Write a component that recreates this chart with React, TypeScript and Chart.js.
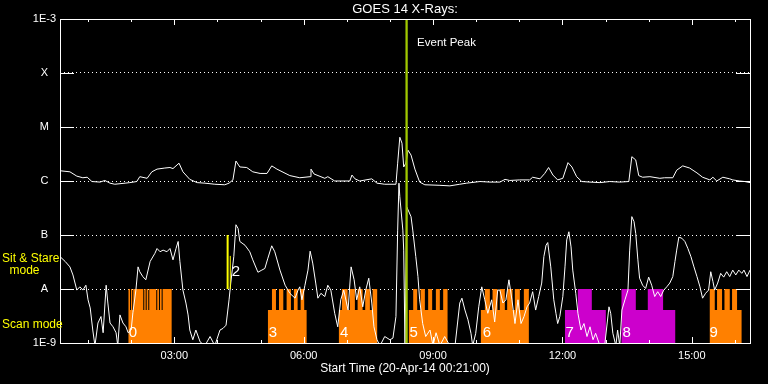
import React, { useEffect, useRef } from 'react';
import { Chart, registerables } from 'chart.js';

Chart.register(...registerables);

const FONT = "'Liberation Sans', Arial, sans-serif";

// ---------- text ----------
const chartTitle = 'GOES 14 X-Rays:';
const xAxisTitle = 'Start Time (20-Apr-14 00:21:00)';

// ---------- axes (hours of 20-Apr-14, log10 flux W/m^2) ----------
const xMinHour = 0.35; // 00:21
const xMaxHour = 16.35;
const hourTicks = [1, 2, 3, 4, 5, 6, 7, 8, 9, 10, 11, 12, 13, 14, 15, 16];
const labeledHours = [3, 6, 9, 12, 15];
const yTickValues = [1e-9, 1e-8, 1e-7, 1e-6, 1e-5, 1e-4, 1e-3];
const yTickLabels = ['1E-9', 'A', 'B', 'C', 'M', 'X', '1E-3'];

// ---------- GOES long channel (1-8 A): [hour, log10 flux] ----------
const longChannel: [number, number][] = [
  [0.35, -5.81], [0.58, -5.83], [0.74, -5.91], [0.88, -5.94], [0.98, -5.93], [1.09, -6.01],
  [1.28, -6.02], [1.39, -5.99], [1.51, -6.04], [1.62, -6.06], [1.86, -6.04], [1.97, -6.03],
  [2.13, -6.01], [2.20, -5.92], [2.37, -5.95], [2.48, -5.83], [2.60, -5.78], [2.78, -5.76],
  [2.90, -5.75], [2.97, -5.77], [3.11, -5.67], [3.20, -5.83], [3.36, -5.97], [3.53, -6.03],
  [3.71, -6.04], [3.94, -6.06], [4.17, -6.07], [4.27, -6.04], [4.36, -5.98], [4.43, -5.63],
  [4.52, -5.74], [4.68, -5.75], [4.82, -5.83], [4.99, -5.86], [5.15, -5.86], [5.26, -5.72],
  [5.38, -5.78], [5.68, -5.90], [5.91, -5.94], [6.15, -5.92], [6.17, -5.78], [6.24, -5.87],
  [6.49, -5.95], [6.56, -5.92], [6.72, -6.00], [7.07, -6.00], [7.12, -5.89], [7.19, -5.96],
  [7.30, -6.00], [7.58, -5.96], [7.70, -6.04], [7.88, -6.06], [8.14, -6.06], [8.18, -5.67],
  [8.23, -5.19], [8.28, -5.30], [8.32, -5.74], [8.37, -5.67], [8.42, -5.43], [8.49, -5.52],
  [8.58, -5.78], [8.69, -6.02], [8.81, -6.07], [9.16, -6.08], [9.39, -6.09], [9.62, -6.06],
  [9.78, -6.04], [10.09, -6.01], [10.32, -6.02], [10.55, -6.02], [10.67, -5.97], [10.78, -5.99],
  [11.01, -5.98], [11.24, -5.98], [11.31, -5.93], [11.48, -5.96], [11.59, -5.86], [11.68, -5.75],
  [11.78, -5.89], [11.89, -5.98], [12.01, -5.95], [12.13, -5.66], [12.22, -5.74], [12.33, -5.92],
  [12.45, -6.01], [12.64, -6.02], [12.87, -6.03], [13.10, -6.01], [13.33, -6.02], [13.54, -6.01],
  [13.61, -5.55], [13.70, -5.61], [13.77, -5.90], [13.86, -5.93], [14.03, -5.92], [14.26, -5.95],
  [14.37, -5.94], [14.56, -5.94], [14.65, -5.80], [14.79, -5.72], [14.95, -5.76], [15.12, -5.85],
  [15.25, -5.93], [15.42, -5.98], [15.49, -5.93], [15.58, -6.00], [15.72, -5.93], [15.88, -5.96],
  [15.95, -5.98], [16.11, -6.00], [16.23, -6.01], [16.35, -6.03],
];

// ---------- GOES short channel (0.5-4 A): [hour, log10 flux] ----------
const shortChannel: [number, number][] = [
  [0.35, -7.40], [0.47, -7.49], [0.58, -7.59], [0.65, -7.74], [0.74, -8.02], [0.81, -7.96],
  [0.88, -8.02], [0.95, -7.93], [1.00, -8.20], [1.05, -8.35], [1.11, -8.76], [1.16, -9.05],
  [1.23, -8.63], [1.30, -8.51], [1.35, -8.81], [1.42, -7.93], [1.46, -8.26], [1.51, -8.63],
  [1.58, -8.70], [1.65, -8.81], [1.69, -9.05], [1.74, -8.48], [1.81, -8.63], [1.88, -8.70],
  [1.93, -8.81], [2.00, -8.76], [2.04, -8.44], [2.11, -8.02], [2.16, -7.59], [2.20, -7.68],
  [2.27, -7.77], [2.34, -7.83], [2.44, -7.49], [2.55, -7.34], [2.60, -7.25], [2.67, -7.31],
  [2.74, -7.28], [2.83, -7.31], [2.90, -7.25], [2.97, -7.46], [3.04, -7.25], [3.09, -7.12],
  [3.13, -7.49], [3.20, -8.02], [3.27, -8.26], [3.32, -8.48], [3.36, -8.76], [3.43, -8.94],
  [3.50, -8.76], [3.60, -8.98], [3.71, -9.05], [3.83, -8.88], [3.94, -9.05], [4.06, -8.76],
  [4.13, -8.73], [4.20, -8.67], [4.27, -8.20], [4.31, -7.89], [4.38, -7.40], [4.43, -6.81],
  [4.48, -6.88], [4.52, -7.12], [4.64, -7.19], [4.75, -7.31], [4.82, -7.46], [4.94, -7.69],
  [5.03, -7.65], [5.10, -7.62], [5.17, -7.43], [5.26, -7.20], [5.33, -7.31], [5.45, -7.65],
  [5.57, -7.93], [5.68, -8.08], [5.80, -8.17], [5.87, -8.02], [5.91, -7.96], [5.96, -8.20],
  [6.03, -7.93], [6.10, -7.65], [6.15, -7.30], [6.21, -7.52], [6.28, -7.89], [6.33, -8.17],
  [6.40, -8.08], [6.49, -8.14], [6.56, -7.93], [6.63, -8.02], [6.72, -8.45], [6.79, -8.70],
  [6.86, -8.20], [6.93, -8.02], [7.03, -8.39], [7.10, -7.59], [7.17, -7.83], [7.23, -8.20],
  [7.30, -7.96], [7.37, -8.33], [7.44, -8.02], [7.51, -7.80], [7.58, -8.26], [7.63, -8.70],
  [7.70, -8.94], [7.77, -9.05], [7.88, -8.88], [8.00, -8.94], [8.07, -8.91], [8.14, -8.51],
  [8.18, -6.91], [8.21, -6.04], [8.23, -6.29], [8.30, -6.91], [8.32, -7.28], [8.35, -9.05],
  [8.39, -6.48], [8.49, -6.66], [8.53, -6.91], [8.60, -7.40], [8.65, -7.77], [8.69, -8.20],
  [8.76, -8.64], [8.83, -8.88], [8.93, -8.76], [9.00, -9.05], [9.07, -8.81], [9.16, -9.05],
  [9.27, -8.88], [9.39, -9.05], [9.51, -9.05], [9.62, -8.26], [9.67, -8.17], [9.74, -8.39],
  [9.81, -8.57], [9.88, -8.82], [9.92, -9.05], [9.99, -8.82], [10.06, -8.33], [10.13, -7.96],
  [10.20, -8.20], [10.27, -8.45], [10.36, -8.20], [10.43, -8.61], [10.50, -8.02], [10.55, -8.02],
  [10.62, -8.26], [10.69, -8.20], [10.76, -7.83], [10.83, -8.20], [10.90, -8.64], [10.97, -8.20],
  [11.04, -8.64], [11.11, -8.51], [11.18, -8.33], [11.24, -8.26], [11.31, -8.05], [11.38, -8.39],
  [11.45, -8.14], [11.52, -7.89], [11.57, -7.40], [11.62, -7.19], [11.66, -7.14], [11.73, -7.59],
  [11.80, -8.20], [11.85, -8.45], [11.89, -8.64], [11.94, -8.51], [12.01, -8.14], [12.06, -7.59],
  [12.10, -7.09], [12.15, -6.94], [12.20, -7.22], [12.24, -7.65], [12.31, -8.08], [12.36, -8.45],
  [12.43, -8.76], [12.50, -8.64], [12.57, -8.88], [12.64, -8.70], [12.71, -8.94], [12.77, -8.82],
  [12.87, -9.05], [12.98, -9.05], [13.08, -8.33], [13.12, -8.45], [13.17, -8.82], [13.24, -9.05],
  [13.28, -8.76], [13.33, -9.05], [13.38, -8.39], [13.45, -8.20], [13.52, -8.02], [13.56, -7.28],
  [13.61, -6.66], [13.66, -6.75], [13.70, -6.97], [13.75, -7.46], [13.79, -7.80], [13.86, -7.93],
  [13.93, -7.99], [14.00, -7.78], [14.07, -7.93], [14.14, -8.14], [14.21, -8.05], [14.28, -8.14],
  [14.35, -8.02], [14.42, -7.96], [14.49, -7.89], [14.56, -7.77], [14.61, -7.49], [14.65, -7.28],
  [14.70, -7.04], [14.77, -7.06], [14.84, -7.12], [14.91, -7.25], [14.98, -7.40], [15.05, -7.59],
  [15.12, -7.77], [15.19, -7.96], [15.25, -8.17], [15.32, -8.08], [15.39, -8.02], [15.44, -7.68],
  [15.49, -7.86], [15.53, -8.02], [15.60, -7.89], [15.67, -7.71], [15.74, -7.78], [15.81, -7.68],
  [15.88, -7.77], [15.95, -7.65], [16.02, -7.74], [16.09, -7.65], [16.16, -7.71], [16.21, -7.65],
  [16.28, -7.77], [16.35, -7.65],
];

// ---------- observing mode bands: [start hour, level] (0 none, 1 partial, 2 full) ----------
const modeLevelFlux = [1e-9, 4.1e-9, 1e-8];
const scanOrangeSteps: [number, number][] = [
  [1.933, 2], [1.973, 1], [1.996, 2], [2.026, 1], [2.049, 2], [2.281, 1], [2.304, 2], [2.337, 1],
  [2.360, 2], [2.397, 1], [2.420, 2], [2.582, 1], [2.605, 2], [2.645, 1], [2.668, 2], [2.707, 1],
  [2.730, 2], [2.939, 0],
  [5.172, 1], [5.265, 2], [5.358, 1], [5.428, 2], [5.528, 1], [5.605, 2], [5.705, 1], [5.774, 2],
  [5.860, 1], [5.930, 2], [6.013, 1], [6.069, 0],
  [6.817, 1], [6.887, 2], [7.019, 1], [7.072, 2], [7.188, 1], [7.251, 2], [7.367, 1], [7.427, 2],
  [7.536, 1], [7.599, 2], [7.705, 0],
  [8.440, 1], [8.540, 2], [8.633, 1], [8.711, 2], [8.811, 1], [8.887, 2], [8.980, 1], [9.066, 2],
  [9.158, 1], [9.235, 2], [9.337, 0],
  [10.109, 1], [10.202, 2], [10.318, 1], [10.380, 2], [10.496, 1], [10.549, 2], [10.665, 1],
  [10.719, 2], [10.844, 1], [10.897, 2], [11.013, 1], [11.106, 2], [11.222, 0],
  [15.417, 2], [15.533, 1], [15.586, 2], [15.702, 1], [15.758, 2], [15.881, 1], [15.934, 2],
  [16.050, 1], [16.159, 0],
];
const scanMagentaSteps: [number, number][] = [
  [12.056, 1], [12.357, 2], [12.682, 1], [13.007, 0],
  [13.370, 2], [13.702, 1], [13.980, 2], [14.335, 1], [14.622, 0],
];

// ---------- annotations ----------
const blockLabelText = ['0', '2', '3', '4', '5', '6', '7', '8', '9'];
const blockLabelHour = [2.04, 4.43, 5.29, 6.94, 8.55, 10.25, 12.17, 13.49, 15.51];
const blockLabelFlux = [1.55e-9, 2.1e-8, 1.55e-9, 1.55e-9, 1.55e-9, 1.55e-9, 1.55e-9, 1.55e-9, 1.55e-9];
const sitStareHours = [4.237, 4.298];
const sitStareTopFlux = [1e-7, 4.1e-8];
const eventPeakHour = 8.387;
const eventPeakLabelFlux = 3.6e-4;
const sideLabelFlux = { sitStare: 3.6e-8, mode: 2.2e-8, scan: 2.2e-9 };

const toFlux = (e: number) => Math.pow(10, e);

const overlayPlugin = {
  id: 'goesOverlay',
  beforeDraw(chart: any) {
    const { ctx } = chart;
    ctx.save();
    ctx.fillStyle = '#000';
    ctx.fillRect(0, 0, chart.width, chart.height);
    ctx.restore();
  },
  afterDatasetsDraw(chart: any) {
    const { ctx, chartArea: a } = chart;
    const xs = chart.scales.x;
    const ys = chart.scales.y;
    ctx.save();

    // sit & stare marks
    ctx.strokeStyle = '#ffff00';
    sitStareHours.forEach((h, i) => {
      const px = xs.getPixelForValue(h);
      ctx.lineWidth = i === 0 ? 2 : 1;
      ctx.beginPath();
      ctx.moveTo(px, ys.getPixelForValue(sitStareTopFlux[i]));
      ctx.lineTo(px, ys.getPixelForValue(1e-8));
      ctx.stroke();
    });

    // event peak line
    const ex = xs.getPixelForValue(eventPeakHour);
    ctx.strokeStyle = '#a0c800';
    ctx.lineWidth = 2.3;
    ctx.beginPath();
    ctx.moveTo(ex, a.top);
    ctx.lineTo(ex, a.bottom);
    ctx.stroke();

    ctx.fillStyle = '#fff';
    ctx.font = `11.5px ${FONT}`;
    ctx.textAlign = 'left';
    ctx.textBaseline = 'middle';
    ctx.fillText('Event Peak', ex + 10.5, ys.getPixelForValue(eventPeakLabelFlux));

    // block labels
    ctx.font = `15px ${FONT}`;
    ctx.textAlign = 'center';
    blockLabelText.forEach((t, i) => {
      ctx.fillText(t, xs.getPixelForValue(blockLabelHour[i]), ys.getPixelForValue(blockLabelFlux[i]));
    });

    // frame
    ctx.strokeStyle = '#fff';
    ctx.lineWidth = 1;
    const L = Math.round(a.left), R = Math.round(a.right), T = Math.round(a.top), B = Math.round(a.bottom);
    ctx.strokeRect(L + 0.5, T + 0.5, R - L, B - T);

    // inner y ticks at grid levels
    ctx.beginPath();
    yTickValues.forEach((v, i) => {
      if (i === 0 || i === yTickValues.length - 1) return;
      const py = Math.round(ys.getPixelForValue(v)) + 0.5;
      ctx.moveTo(L, py); ctx.lineTo(L + 14, py);
      ctx.moveTo(R - 14, py); ctx.lineTo(R, py);
    });
    // inner x ticks
    hourTicks.forEach((h) => {
      const px = Math.round(xs.getPixelForValue(h)) + 0.5;
      const len = labeledHours.includes(h) ? 6 : 3;
      ctx.moveTo(px, T); ctx.lineTo(px, T + len);
      ctx.moveTo(px, B); ctx.lineTo(px, B - len);
    });
    ctx.stroke();
    ctx.restore();
  },
  afterDraw(chart: any) {
    const { ctx } = chart;
    const ys = chart.scales.y;
    ctx.save();
    ctx.fillStyle = '#ffff00';
    ctx.font = `12px ${FONT}`;
    ctx.textBaseline = 'middle';
    ctx.textAlign = 'left';
    ctx.fillText('Sit & Stare', 2, ys.getPixelForValue(sideLabelFlux.sitStare));
    ctx.fillText('Scan mode', 2, ys.getPixelForValue(sideLabelFlux.scan));
    ctx.textAlign = 'center';
    ctx.fillText('mode', 24.5, ys.getPixelForValue(sideLabelFlux.mode));
    ctx.restore();
  },
};

export default function App() {
  const ref = useRef<HTMLCanvasElement>(null);

  useEffect(() => {
    const canvas = ref.current;
    if (!canvas) return;
    Chart.defaults.font.family = FONT;
    Chart.defaults.color = '#fff';

    const chart = new Chart(canvas, {
      type: 'line',
      data: {
        datasets: [
          {
            label: 'Long channel',
            data: longChannel.map(([t, e]) => ({ x: t, y: toFlux(e) })),
            borderColor: '#ffffff',
            borderWidth: 1,
            pointRadius: 0,
            tension: 0,
            fill: false,
          },
          {
            label: 'Short channel',
            data: shortChannel.map(([t, e]) => ({ x: t, y: toFlux(e) })),
            borderColor: '#ffffff',
            borderWidth: 1,
            pointRadius: 0,
            tension: 0,
            fill: false,
          },
          {
            label: 'Scan (orange)',
            data: scanOrangeSteps.map(([t, l]) => ({ x: t, y: modeLevelFlux[l] })),
            stepped: true,
            fill: 'start',
            backgroundColor: '#ff8000',
            borderColor: 'rgba(0,0,0,0)',
            borderWidth: 0,
            pointRadius: 0,
          },
          {
            label: 'Scan (magenta)',
            data: scanMagentaSteps.map(([t, l]) => ({ x: t, y: modeLevelFlux[l] })),
            stepped: true,
            fill: 'start',
            backgroundColor: '#cc00cc',
            borderColor: 'rgba(0,0,0,0)',
            borderWidth: 0,
            pointRadius: 0,
          },
        ],
      },
      options: {
        animation: false,
        responsive: false,
        devicePixelRatio: 1,
        events: [],
        layout: { padding: { left: 0, right: 18, top: 0, bottom: 0 } },
        plugins: {
          legend: { display: false },
          tooltip: { enabled: false },
          title: {
            display: true,
            text: chartTitle,
            color: '#fff',
            fullSize: false,
            font: { size: 13, weight: 'normal', family: FONT },
            padding: { top: 2, bottom: 1.4 },
          },
        },
        scales: {
          x: {
            type: 'linear',
            min: xMinHour,
            max: xMaxHour,
            afterBuildTicks: (s: any) => {
              s.ticks = hourTicks.map((v) => ({ value: v }));
            },
            afterFit: (s: any) => {
              s.height = 41;
            },
            ticks: {
              autoSkip: false,
              maxRotation: 0,
              padding: 6,
              color: '#fff',
              font: { size: 11, family: FONT },
              callback: (v: any) =>
                labeledHours.includes(Number(v)) ? String(v).padStart(2, '0') + ':00' : '',
            },
            grid: { display: false, drawTicks: false },
            border: { display: false },
            title: {
              display: true,
              text: xAxisTitle,
              color: '#fff',
              font: { size: 12, family: FONT },
              padding: { top: 0, bottom: 8 },
            },
          },
          y: {
            type: 'logarithmic',
            min: 1e-9,
            max: 1e-3,
            afterBuildTicks: (s: any) => {
              s.ticks = yTickValues.map((v) => ({ value: v }));
            },
            afterFit: (s: any) => {
              s.width = 60;
            },
            ticks: {
              autoSkip: false,
              crossAlign: 'center',
              padding: 4,
              color: '#fff',
              font: { size: 11, family: FONT },
              callback: (_v: any, i: number) => yTickLabels[i],
            },
            grid: {
              drawTicks: false,
              lineWidth: 1,
              color: (c: any) =>
                c.index === 0 || c.index === yTickValues.length - 1 ? 'rgba(0,0,0,0)' : '#ffffff',
            },
            border: { display: false, dash: [1, 3] },
          },
        },
      } as any,
      plugins: [overlayPlugin],
    });

    return () => chart.destroy();
  }, []);

  return (
    <div style={{ position: 'fixed', left: 0, top: 0, width: 768, height: 384, background: '#000' }}>
      <canvas ref={ref} width={768} height={384} style={{ display: 'block', width: 768, height: 384 }} />
    </div>
  );
}
